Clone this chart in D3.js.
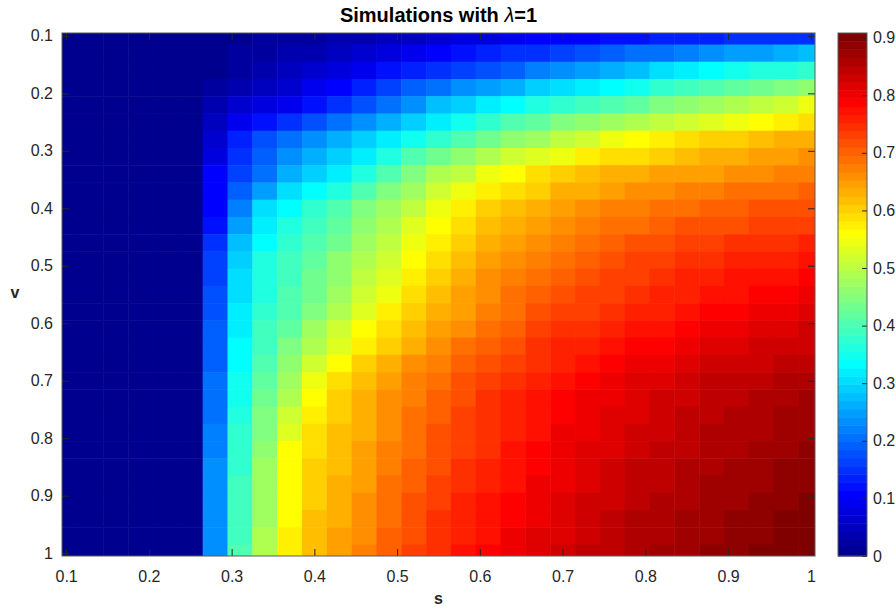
<!DOCTYPE html>
<html>
<head>
<meta charset="utf-8">
<script src="https://cdn.jsdelivr.net/npm/d3@7"></script>
<style>
  body { margin: 0; background: #fff; }
  text { font-family: "Liberation Sans", Arial, sans-serif; }
</style>
</head>
<body>
<svg id="chart"></svg>
<script>
// s along x, v along y (cell centres, step 0.03)
const sLevels = [0.10,0.13,0.16,0.19,0.22,0.25,0.28,0.31,0.34,0.37,0.40,0.43,0.46,0.49,0.52,0.55,
                 0.58,0.61,0.64,0.67,0.70,0.73,0.76,0.79,0.82,0.85,0.88,0.91,0.94,0.97,1.00];
const vLevels = [0.10,0.13,0.16,0.19,0.22,0.25,0.28,0.31,0.34,0.37,0.40,0.43,0.46,0.49,0.52,0.55,
                 0.58,0.61,0.64,0.67,0.70,0.73,0.76,0.79,0.82,0.85,0.88,0.91,0.94,0.97,1.00];

// one row per v
const cellValues = [
  [0,0,0,0,0,0,0.005,0.01,0.015,0.02,0.025,0.03,0.04,0.045,0.055,0.065,0.075,0.085,0.095,0.10,0.105,0.11,0.118,0.124,0.13,0.135,0.14,0.143,0.146,0.148,0.15],
  [0,0,0,0,0,0,0.008,0.015,0.022,0.032,0.042,0.052,0.065,0.078,0.09,0.105,0.118,0.13,0.143,0.155,0.168,0.18,0.19,0.2,0.212,0.222,0.234,0.245,0.252,0.262,0.27],
  [0,0,0,0,0,0,0.01,0.02,0.03,0.045,0.06,0.075,0.095,0.115,0.13,0.15,0.165,0.18,0.195,0.215,0.235,0.25,0.265,0.28,0.30,0.315,0.33,0.345,0.355,0.368,0.38],
  [0,0,0,0,0,0,0.022,0.04,0.052,0.07,0.09,0.112,0.138,0.162,0.185,0.21,0.23,0.25,0.268,0.288,0.308,0.322,0.338,0.352,0.37,0.385,0.40,0.415,0.428,0.444,0.46],
  [0,0,0,0,0,0,0.035,0.06,0.075,0.095,0.12,0.15,0.18,0.21,0.24,0.27,0.295,0.32,0.34,0.36,0.38,0.395,0.41,0.425,0.44,0.455,0.47,0.485,0.50,0.52,0.54],
  [0,0,0,0,0,0,0.05,0.095,0.125,0.15,0.178,0.205,0.235,0.265,0.295,0.325,0.352,0.378,0.4,0.42,0.44,0.458,0.475,0.49,0.505,0.52,0.535,0.548,0.56,0.578,0.595],
  [0,0,0,0,0,0,0.07,0.13,0.175,0.205,0.235,0.26,0.29,0.32,0.35,0.38,0.41,0.435,0.46,0.48,0.50,0.52,0.54,0.555,0.57,0.585,0.60,0.61,0.62,0.628,0.635],
  [0,0,0,0,0,0,0.085,0.15,0.19,0.23,0.265,0.29,0.325,0.365,0.40,0.43,0.46,0.49,0.512,0.532,0.55,0.568,0.582,0.595,0.605,0.615,0.626,0.635,0.642,0.65,0.66],
  [0,0,0,0,0,0,0.10,0.17,0.21,0.26,0.295,0.325,0.365,0.41,0.45,0.485,0.51,0.54,0.565,0.585,0.60,0.615,0.625,0.635,0.64,0.645,0.652,0.66,0.665,0.672,0.68],
  [0,0,0,0,0,0,0.105,0.195,0.255,0.30,0.335,0.365,0.40,0.442,0.48,0.515,0.542,0.57,0.592,0.61,0.625,0.638,0.648,0.658,0.665,0.67,0.676,0.682,0.688,0.694,0.70],
  [0,0,0,0,0,0,0.11,0.22,0.30,0.34,0.375,0.405,0.44,0.475,0.51,0.545,0.575,0.60,0.62,0.635,0.65,0.66,0.67,0.68,0.69,0.695,0.70,0.705,0.71,0.715,0.72],
  [0,0,0,0,0,0,0.125,0.245,0.318,0.357,0.39,0.422,0.457,0.49,0.527,0.562,0.59,0.615,0.635,0.65,0.665,0.675,0.685,0.695,0.705,0.711,0.717,0.722,0.727,0.732,0.737],
  [0,0,0,0,0,0,0.145,0.27,0.337,0.373,0.405,0.438,0.473,0.505,0.543,0.578,0.605,0.63,0.65,0.665,0.68,0.69,0.70,0.71,0.72,0.726,0.733,0.738,0.743,0.748,0.753],
  [0,0,0,0,0,0,0.16,0.29,0.355,0.39,0.42,0.455,0.49,0.52,0.56,0.595,0.62,0.645,0.665,0.68,0.695,0.705,0.715,0.725,0.735,0.742,0.75,0.755,0.76,0.765,0.77],
  [0,0,0,0,0,0,0.167,0.30,0.362,0.397,0.428,0.465,0.505,0.537,0.573,0.605,0.63,0.655,0.675,0.69,0.705,0.715,0.725,0.735,0.745,0.753,0.761,0.767,0.772,0.778,0.783],
  [0,0,0,0,0,0,0.173,0.31,0.368,0.403,0.437,0.475,0.52,0.553,0.587,0.615,0.64,0.665,0.685,0.70,0.715,0.725,0.735,0.745,0.755,0.764,0.772,0.778,0.785,0.79,0.797],
  [0,0,0,0,0,0,0.18,0.32,0.375,0.41,0.445,0.485,0.535,0.57,0.60,0.625,0.65,0.675,0.695,0.71,0.725,0.735,0.745,0.755,0.765,0.775,0.783,0.79,0.797,0.803,0.81],
  [0,0,0,0,0,0,0.185,0.326,0.385,0.425,0.47,0.511,0.556,0.59,0.618,0.643,0.666,0.69,0.709,0.724,0.739,0.749,0.759,0.769,0.779,0.789,0.797,0.804,0.81,0.817,0.823],
  [0,0,0,0,0,0,0.19,0.333,0.395,0.44,0.495,0.538,0.578,0.61,0.635,0.66,0.683,0.705,0.723,0.738,0.753,0.763,0.773,0.783,0.793,0.803,0.811,0.818,0.824,0.83,0.836],
  [0,0,0,0,0,0,0.195,0.34,0.405,0.455,0.52,0.564,0.599,0.63,0.653,0.678,0.699,0.72,0.736,0.751,0.766,0.776,0.786,0.796,0.806,0.816,0.824,0.831,0.837,0.843,0.849],
  [0,0,0,0,0,0,0.20,0.345,0.415,0.47,0.545,0.59,0.62,0.65,0.67,0.695,0.715,0.735,0.75,0.765,0.78,0.79,0.80,0.81,0.82,0.83,0.838,0.845,0.85,0.857,0.862],
  [0,0,0,0,0,0,0.206,0.354,0.427,0.491,0.557,0.597,0.625,0.655,0.676,0.70,0.72,0.739,0.755,0.77,0.785,0.795,0.805,0.816,0.826,0.835,0.843,0.85,0.855,0.862,0.867],
  [0,0,0,0,0,0,0.212,0.362,0.44,0.512,0.57,0.605,0.63,0.66,0.682,0.705,0.725,0.742,0.76,0.775,0.79,0.80,0.81,0.822,0.831,0.84,0.848,0.855,0.86,0.866,0.872],
  [0,0,0,0,0,0,0.219,0.371,0.452,0.534,0.582,0.612,0.635,0.665,0.689,0.71,0.73,0.746,0.765,0.78,0.795,0.805,0.815,0.829,0.837,0.845,0.853,0.86,0.865,0.871,0.877],
  [0,0,0,0,0,0,0.225,0.38,0.465,0.555,0.595,0.62,0.64,0.67,0.695,0.715,0.735,0.75,0.77,0.785,0.80,0.81,0.82,0.835,0.843,0.85,0.858,0.865,0.87,0.876,0.882],
  [0,0,0,0,0,0,0.228,0.383,0.469,0.558,0.599,0.624,0.645,0.676,0.70,0.721,0.741,0.756,0.775,0.79,0.804,0.815,0.825,0.839,0.847,0.854,0.862,0.869,0.875,0.881,0.887],
  [0,0,0,0,0,0,0.23,0.387,0.473,0.56,0.603,0.628,0.65,0.682,0.705,0.727,0.747,0.762,0.78,0.795,0.808,0.82,0.83,0.843,0.851,0.858,0.866,0.873,0.879,0.886,0.892],
  [0,0,0,0,0,0,0.233,0.39,0.478,0.563,0.608,0.633,0.655,0.688,0.71,0.733,0.753,0.768,0.785,0.80,0.813,0.825,0.835,0.848,0.855,0.863,0.87,0.878,0.884,0.89,0.897],
  [0,0,0,0,0,0,0.235,0.393,0.482,0.565,0.612,0.637,0.66,0.693,0.715,0.738,0.758,0.773,0.79,0.805,0.817,0.83,0.84,0.852,0.859,0.867,0.874,0.882,0.889,0.895,0.902],
  [0,0,0,0,0,0,0.238,0.397,0.486,0.568,0.616,0.641,0.665,0.699,0.72,0.744,0.764,0.779,0.795,0.81,0.821,0.835,0.845,0.856,0.863,0.871,0.878,0.886,0.893,0.90,0.907],
  [0,0,0,0,0,0,0.24,0.40,0.49,0.57,0.62,0.645,0.67,0.705,0.725,0.75,0.77,0.785,0.80,0.815,0.825,0.84,0.85,0.86,0.867,0.875,0.882,0.89,0.898,0.905,0.912]
];

const xTicks = [0.1,0.2,0.3,0.4,0.5,0.6,0.7,0.8,0.9,1];
const yTicks = [0.1,0.2,0.3,0.4,0.5,0.6,0.7,0.8,0.9,1];
const cbarTicks = [0,0.1,0.2,0.3,0.4,0.5,0.6,0.7,0.8,0.9];
const cmin = 0, cmax = 0.908;
const step = 0.03;

const width = 896, height = 609;
const svg = d3.select("#chart").attr("width", width).attr("height", height);

const plot = {left: 62, right: 815, top: 33, bottom: 556};

const x = d3.scaleLinear().domain([0.095, 1.005]).range([plot.left, plot.right]);
const y = d3.scaleLinear().domain([0.095, 1.005]).range([plot.top, plot.bottom]);

// matlab jet(64)
function jet(k) {
  let r, g, b;
  if (k <= 24) r = 0; else if (k <= 40) r = (k - 24) / 16; else if (k <= 56) r = 1; else r = (16 - (k - 56)) / 16;
  if (k <= 8) g = 0; else if (k <= 24) g = (k - 8) / 16; else if (k <= 40) g = 1; else if (k <= 55) g = (16 - (k - 40)) / 16; else g = 0;
  if (k <= 8) b = (k + 8) / 16; else if (k <= 24) b = 1; else if (k <= 39) b = (16 - (k - 24)) / 16; else b = 0;
  return d3.rgb(r * 255, g * 255, b * 255).toString();
}
const nColors = 64;
function colorOf(val) {
  let k = Math.floor((val - cmin) / (cmax - cmin) * nColors) + 1;
  return jet(Math.max(1, Math.min(nColors, k)));
}

svg.append("defs").append("clipPath").attr("id", "clip")
  .append("rect")
    .attr("x", plot.left).attr("y", plot.top)
    .attr("width", plot.right - plot.left).attr("height", plot.bottom - plot.top);

const cells = [];
vLevels.forEach((v, i) => {
  sLevels.forEach((s, j) => cells.push({s: s, v: v, val: cellValues[i][j]}));
});

svg.append("g")
  .attr("clip-path", "url(#clip)")
  .selectAll("rect")
  .data(cells)
  .join("rect")
    .attr("x", d => x(d.s - step / 2))
    .attr("y", d => y(d.v - step / 2))
    .attr("width", d => x(d.s + step / 2) - x(d.s - step / 2) + 0.5)
    .attr("height", d => y(d.v + step / 2) - y(d.v - step / 2) + 0.5)
    .attr("fill", d => colorOf(d.val));

const fmt = d => d === 1 ? "1" : d3.format(".1f")(d);
const axisColor = "#262626";

const xAxis = svg.append("g")
  .attr("transform", `translate(0,${plot.bottom})`)
  .call(d3.axisBottom(x).tickValues(xTicks).tickFormat(fmt).tickSizeInner(-7).tickSizeOuter(0).tickPadding(15));
const xAxisTop = svg.append("g")
  .attr("transform", `translate(0,${plot.top})`)
  .call(d3.axisTop(x).tickValues(xTicks).tickFormat("").tickSizeInner(-7).tickSizeOuter(0));
const yAxis = svg.append("g")
  .attr("transform", `translate(${plot.left},0)`)
  .call(d3.axisLeft(y).tickValues(yTicks).tickFormat(fmt).tickSizeInner(-7).tickSizeOuter(0).tickPadding(9));
const yAxisRight = svg.append("g")
  .attr("transform", `translate(${plot.right},0)`)
  .call(d3.axisRight(y).tickValues(yTicks).tickFormat("").tickSizeInner(-7).tickSizeOuter(0));

[xAxis, xAxisTop, yAxis, yAxisRight].forEach(a => {
  a.select(".domain").remove();
  a.selectAll(".tick line").attr("stroke", axisColor);
  a.selectAll(".tick text").attr("fill", axisColor).style("font-size", "16px")
    .style("font-family", '"Liberation Sans", Arial, sans-serif');
});

svg.append("rect")
  .attr("x", plot.left).attr("y", plot.top)
  .attr("width", plot.right - plot.left).attr("height", plot.bottom - plot.top)
  .attr("fill", "none").attr("stroke", "#5a5a5a").attr("stroke-width", 1);

// colorbar
const cb = {left: 838, right: 867, top: 33, bottom: 556};
const yc = d3.scaleLinear().domain([cmin, cmax]).range([cb.bottom, cb.top]);
const bands = d3.range(1, nColors + 1);
svg.append("g").selectAll("rect")
  .data(bands)
  .join("rect")
    .attr("x", cb.left)
    .attr("width", cb.right - cb.left)
    .attr("y", k => yc(cmin + k / nColors * (cmax - cmin)))
    .attr("height", k => yc(cmin + (k - 1) / nColors * (cmax - cmin)) - yc(cmin + k / nColors * (cmax - cmin)) + 0.5)
    .attr("fill", k => jet(k));

const cAxis = svg.append("g")
  .attr("transform", `translate(${cb.right},0)`)
  .call(d3.axisRight(yc).tickValues(cbarTicks).tickFormat(d => d === 0 ? "0" : d3.format(".1f")(d))
    .tickSizeInner(-5).tickSizeOuter(0).tickPadding(6));
cAxis.select(".domain").remove();
cAxis.selectAll(".tick line").attr("stroke", axisColor);
cAxis.selectAll(".tick text").attr("fill", axisColor).style("font-size", "16px")
  .style("font-family", '"Liberation Sans", Arial, sans-serif');

svg.append("rect")
  .attr("x", cb.left).attr("y", cb.top)
  .attr("width", cb.right - cb.left).attr("height", cb.bottom - cb.top)
  .attr("fill", "none").attr("stroke", "#5a5a5a").attr("stroke-width", 1);

// labels
svg.append("text")
  .attr("x", (plot.left + plot.right) / 2)
  .attr("y", 604)
  .attr("text-anchor", "middle")
  .style("font-size", "16px").style("font-weight", "bold").attr("fill", axisColor)
  .text("s");

svg.append("text")
  .attr("x", 15)
  .attr("y", 298)
  .attr("text-anchor", "middle")
  .style("font-size", "16px").style("font-weight", "bold").attr("fill", axisColor)
  .text("v");

const title = svg.append("text")
  .attr("x", (plot.left + plot.right) / 2)
  .attr("y", 22)
  .attr("text-anchor", "middle")
  .style("font-size", "20px").style("font-weight", "bold").attr("fill", "#000");
title.append("tspan").text("Simulations with ");
title.append("tspan").style("font-style", "italic").style("font-weight", "normal").text("λ");
title.append("tspan").text("=1");
</script>
</body>
</html>
